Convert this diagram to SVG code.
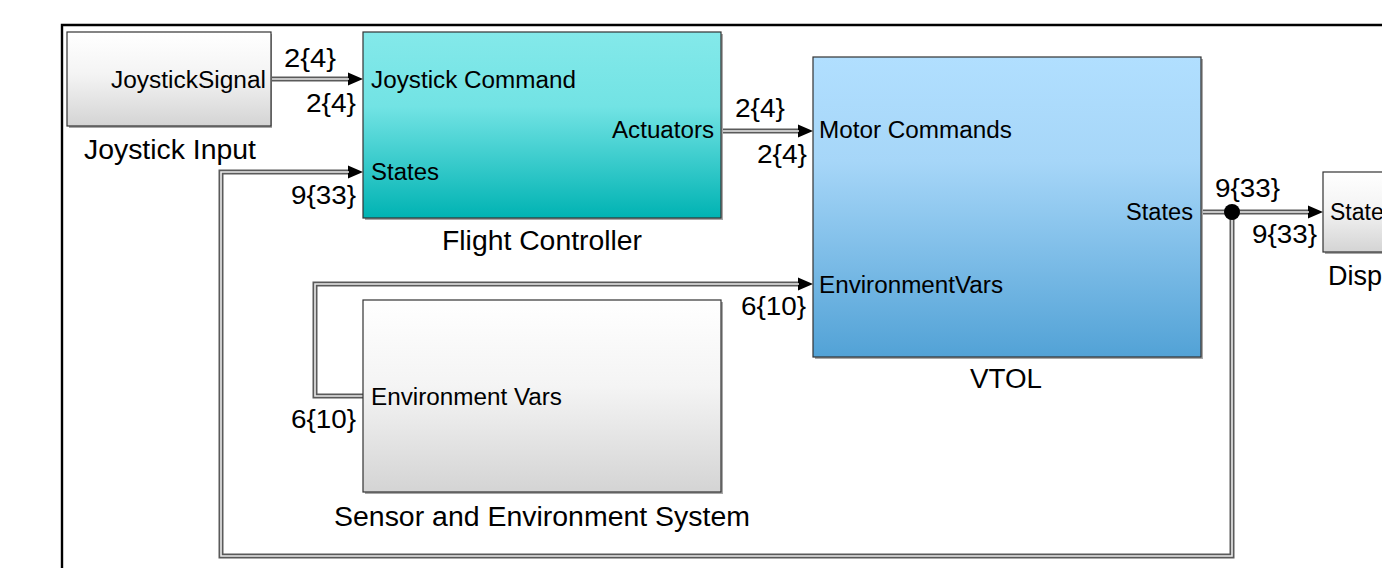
<svg xmlns="http://www.w3.org/2000/svg" width="1382" height="568" viewBox="0 0 1382 568">
<style>
text{font-family:"Liberation Sans",Arial,sans-serif;fill:#000}
.nm{font-size:27px}
.pt{font-size:23px}
.dm{font-size:26px}
.blk{stroke:#333;stroke-width:1.2}
.sh{fill:#a8a8a8}
.bo{fill:none;stroke:#5a5a5a;stroke-width:5}
.bi{fill:none;stroke:#ececec;stroke-width:1.6}
</style>
<defs>
<linearGradient id="gGray" x1="0" y1="0" x2="0" y2="1">
<stop offset="0" stop-color="#ffffff"/><stop offset="0.45" stop-color="#f4f4f4"/><stop offset="1" stop-color="#d4d4d4"/>
</linearGradient>
<linearGradient id="gTeal" x1="0" y1="0" x2="0" y2="1">
<stop offset="0" stop-color="#84e9ea"/><stop offset="0.4" stop-color="#72e3e4"/><stop offset="1" stop-color="#00b3b3"/>
</linearGradient>
<linearGradient id="gBlue" x1="0" y1="0" x2="0" y2="1">
<stop offset="0" stop-color="#b1dfff"/><stop offset="0.35" stop-color="#a6d6f8"/><stop offset="1" stop-color="#52a2d6"/>
</linearGradient>
<marker id="arr" markerUnits="userSpaceOnUse" markerWidth="16" markerHeight="14" refX="1" refY="7" orient="auto" viewBox="0 0 16 14">
<path d="M0,0.5 L15,7 L0,13.5 z" fill="#000"/>
</marker>
</defs>
<rect width="1382" height="568" fill="#fff"/>
<g id="frame">
<path d="M62,568 L62,25 L1382,25" fill="none" stroke="#000" stroke-width="2.4"/>
</g>
<g id="connectors">
<path class="bo" d="M271,79 L349,79" marker-end="url(#arr)"/>
<path class="bi" d="M271,79 L349,79"/>
<path class="bo" d="M721,131 L799,131" marker-end="url(#arr)"/>
<path class="bi" d="M721,131 L799,131"/>
<path class="bo" d="M1201,212 L1309,212" marker-end="url(#arr)"/>
<path class="bi" d="M1201,212 L1309,212"/>
<path class="bo" d="M1232,212 L1232,556 L221,556 L221,172 L349,172" marker-end="url(#arr)"/>
<path class="bi" d="M1232,212 L1232,556 L221,556 L221,172 L349,172"/>
<path class="bo" d="M363,396 L315,396 L315,284 L799,284" marker-end="url(#arr)"/>
<path class="bi" d="M363,396 L315,396 L315,284 L799,284"/>
<circle cx="1232" cy="212" r="8" fill="#000"/>
<text class="dm" x="284" y="67" textLength="52" lengthAdjust="spacingAndGlyphs">2{4}</text>
<text class="dm" x="306" y="112" textLength="50" lengthAdjust="spacingAndGlyphs">2{4}</text>
<text class="dm" x="291" y="204" textLength="65" lengthAdjust="spacingAndGlyphs">9{33}</text>
<text class="dm" x="735" y="117" textLength="50" lengthAdjust="spacingAndGlyphs">2{4}</text>
<text class="dm" x="757" y="163" textLength="50" lengthAdjust="spacingAndGlyphs">2{4}</text>
<text class="dm" x="741" y="315" textLength="65" lengthAdjust="spacingAndGlyphs">6{10}</text>
<text class="dm" x="291" y="428" textLength="65" lengthAdjust="spacingAndGlyphs">6{10}</text>
<text class="dm" x="1215" y="197" textLength="65" lengthAdjust="spacingAndGlyphs">9{33}</text>
<text class="dm" x="1252" y="243" textLength="65" lengthAdjust="spacingAndGlyphs">9{33}</text>
</g>
<g id="joystick-input">
<rect class="sh" x="69" y="34" width="203" height="94"/>
<rect class="blk" x="67" y="32" width="204" height="94" fill="url(#gGray)"/>
<text class="pt" x="111" y="88" textLength="155" lengthAdjust="spacingAndGlyphs">JoystickSignal</text>
<text class="nm" x="84" y="159" textLength="172" lengthAdjust="spacingAndGlyphs">Joystick Input</text>
</g>
<g id="flight-controller">
<rect class="sh" x="365" y="34" width="358" height="186"/>
<rect class="blk" x="363" y="32" width="358" height="186" fill="url(#gTeal)"/>
<text class="pt" x="371" y="88" textLength="205" lengthAdjust="spacingAndGlyphs">Joystick Command</text>
<text class="pt" x="371" y="180" textLength="68" lengthAdjust="spacingAndGlyphs">States</text>
<text class="pt" x="612" y="138" textLength="102" lengthAdjust="spacingAndGlyphs">Actuators</text>
<text class="nm" x="442" y="250" textLength="200" lengthAdjust="spacingAndGlyphs">Flight Controller</text>
</g>
<g id="sensor-env">
<rect class="sh" x="365" y="302" width="358" height="192"/>
<rect class="blk" x="363" y="300" width="358" height="192" fill="url(#gGray)"/>
<text class="pt" x="371" y="405" textLength="191" lengthAdjust="spacingAndGlyphs">Environment Vars</text>
<text class="nm" x="334" y="526" textLength="416" lengthAdjust="spacingAndGlyphs">Sensor and Environment System</text>
</g>
<g id="vtol">
<rect class="sh" x="815" y="59" width="388" height="300"/>
<rect class="blk" x="813" y="57" width="388" height="300" fill="url(#gBlue)"/>
<text class="pt" x="819" y="138" textLength="193" lengthAdjust="spacingAndGlyphs">Motor Commands</text>
<text class="pt" x="819" y="293" textLength="184" lengthAdjust="spacingAndGlyphs">EnvironmentVars</text>
<text class="pt" x="1126" y="220" textLength="67" lengthAdjust="spacingAndGlyphs">States</text>
<text class="nm" x="970" y="388" textLength="72" lengthAdjust="spacingAndGlyphs">VTOL</text>
</g>
<g id="display">
<rect class="sh" x="1325" y="174" width="80" height="80"/>
<rect class="blk" x="1323" y="172" width="80" height="80" fill="url(#gGray)"/>
<text class="pt" x="1330" y="220">State</text>
<text class="nm" x="1328" y="285">Disp</text>
</g>
</svg>
